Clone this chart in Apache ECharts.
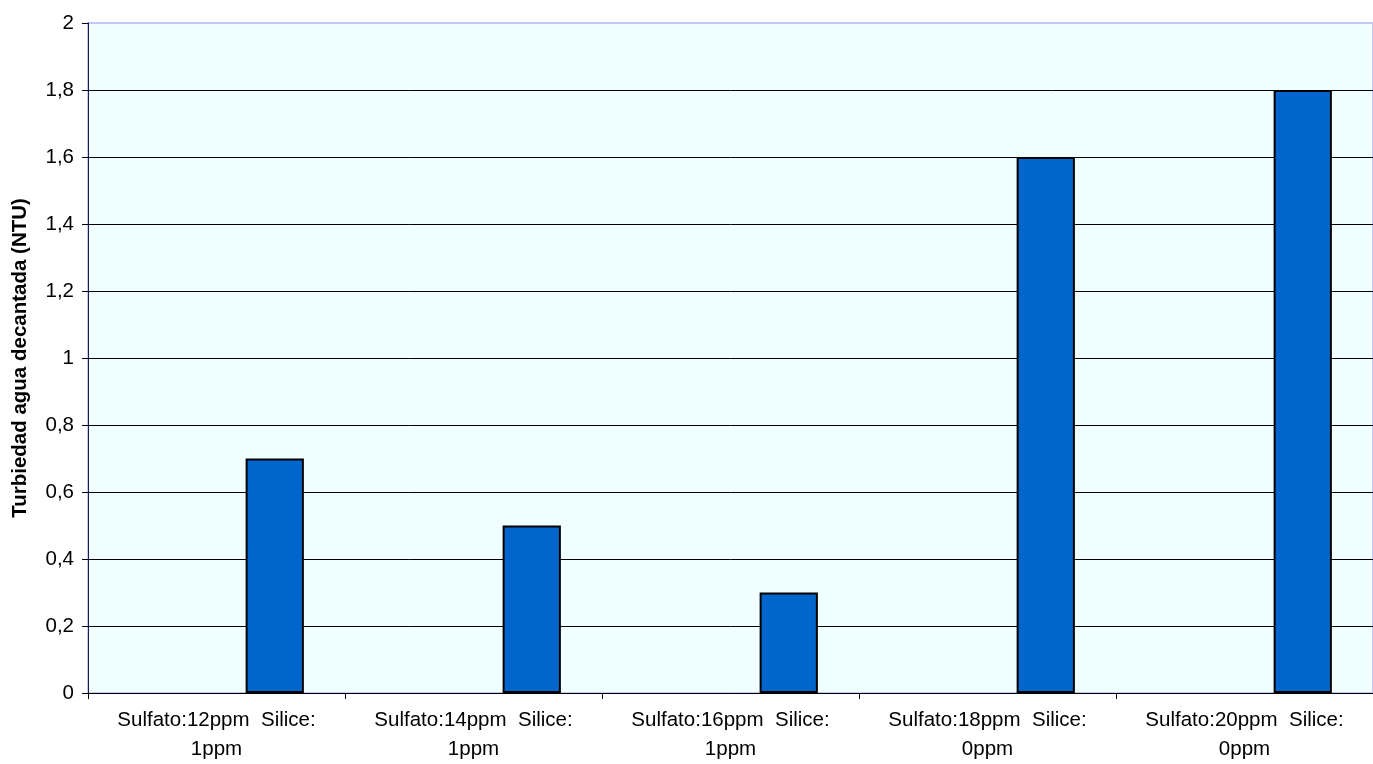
<!DOCTYPE html>
<html>
<head>
<meta charset="utf-8">
<script src="https://cdn.jsdelivr.net/npm/echarts@6/dist/echarts.min.js"></script>
<style>
  html, body { margin: 0; padding: 0; background: #fff; }
  #chart { width: 1373px; height: 764px; }
</style>
</head>
<body>
<div id="chart"></div>
<script>
const categories = [
  'Sulfato:12ppm  Silice:\n1ppm',
  'Sulfato:14ppm  Silice:\n1ppm',
  'Sulfato:16ppm  Silice:\n1ppm',
  'Sulfato:18ppm  Silice:\n0ppm',
  'Sulfato:20ppm  Silice:\n0ppm',
];
const turbiedad = [0.7, 0.5, 0.3, 1.6, 1.8];
const emptySeries = [null, null, null, null, null];

const chart = echarts.init(document.getElementById('chart'));

// lineas de division negras, la de arriba la pinta el borde del grid
const splitColors = [];
for (let i = 0; i < 10; i++) splitColors.push('#000000');
splitColors.push('rgba(0,0,0,0)');

const barStyle = {
  color: '#0066CC',
  borderColor: '#000000',
  borderWidth: 2,
};

const option = {
  animation: false,
  textStyle: { fontFamily: 'Liberation Sans, Arial, sans-serif', fontSize: 20 },
  grid: {
    left: 88,
    right: 0,
    top: 23,
    bottom: 71,
    show: true,
    backgroundColor: '#F0FFFF',
    borderWidth: 2,
    borderColor: '#C8C8F8',
    outerBoundsMode: 'none',
    containLabel: false,
  },
  xAxis: {
    type: 'category',
    data: categories,
    axisLine: { lineStyle: { color: '#000', width: 1 } },
    axisTick: { show: true, length: 6, lineStyle: { color: '#000' } },
    axisLabel: {
      color: '#000',
      fontSize: 20.5,
      lineHeight: 29,
      margin: 13,
      interval: 0,
    },
  },
  yAxis: {
    type: 'value',
    min: 0,
    max: 2,
    interval: 0.2,
    name: 'Turbiedad agua decantada (NTU)',
    nameLocation: 'middle',
    nameGap: 57,
    nameTextStyle: { fontSize: 20.5, fontWeight: 'bold', color: '#000' },
    axisLine: { show: true, lineStyle: { color: '#1A1A4A', width: 1 } },
    axisTick: { show: true, length: 6, lineStyle: { color: '#000' } },
    axisLabel: {
      color: '#000',
      fontSize: 20.5,
      margin: 14,
      formatter: (v) => String(Math.round(v * 10) / 10).replace('.', ','),
    },
    splitLine: { show: true, lineStyle: { color: splitColors, width: 1 } },
  },
  series: [
    { type: 'bar', data: emptySeries, barGap: '0%', barCategoryGap: '32%', itemStyle: barStyle },
    { type: 'bar', data: emptySeries, barGap: '0%', barCategoryGap: '32%', itemStyle: barStyle },
    { type: 'bar', data: turbiedad, barGap: '0%', barCategoryGap: '32%', itemStyle: barStyle },
  ],
};

chart.setOption(option);
</script>
</body>
</html>
